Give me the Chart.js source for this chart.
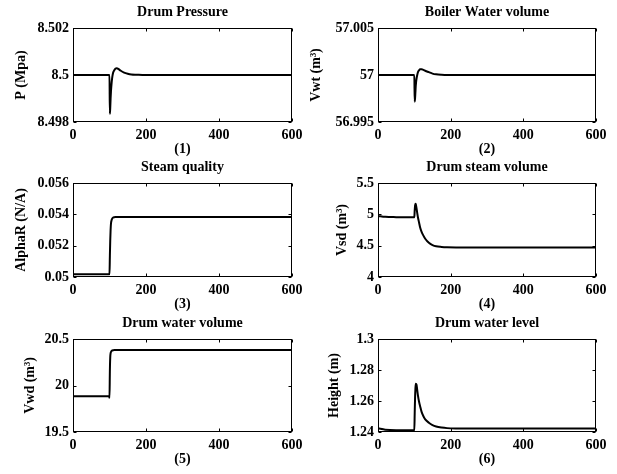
<!DOCTYPE html>
<html><head><meta charset="utf-8">
<script src="https://cdn.jsdelivr.net/npm/chart.js@4"></script>
<style>
html,body{margin:0;padding:0;background:#fff;width:617px;height:474px;overflow:hidden;position:relative}
canvas{position:absolute}
</style></head><body>
<canvas id="c1"></canvas><canvas id="c2"></canvas><canvas id="c3"></canvas>
<canvas id="c4"></canvas><canvas id="c5"></canvas><canvas id="c6"></canvas>
<script>
// ---- data ----
const time = [0, 20, 50, 99, 100, 101, 102, 103, 104, 106, 108, 110, 113, 116, 120, 125, 130, 140, 150, 160, 175, 190, 220, 300, 400, 500, 600];
const drumPressure = [8.5, 8.5, 8.5, 8.5, 8.5, 8.49835, 8.4986, 8.4990, 8.4993, 8.4997, 8.49995, 8.5001, 8.5002, 8.50027, 8.50029, 8.50025, 8.50019, 8.5001, 8.50005, 8.50002, 8.50001, 8.5, 8.5, 8.5, 8.5, 8.5, 8.5];
const boilerWaterVolume = [57, 57, 57, 57, 57, 56.99716, 56.9975, 56.9982, 56.9989, 56.9996, 57.0000, 57.0003, 57.0005, 57.0006, 57.0006, 57.00055, 57.00045, 57.0003, 57.00015, 57.00007, 57.00002, 57, 57, 57, 57, 57, 57];
const steamQuality = [0.05017, 0.05017, 0.05017, 0.05017, 0.05017, 0.0513, 0.0523, 0.0530, 0.0534, 0.05365, 0.05375, 0.0538, 0.05382, 0.05383, 0.05383, 0.05383, 0.05383, 0.05383, 0.05383, 0.05383, 0.05383, 0.05383, 0.05383, 0.05383, 0.05383, 0.05383, 0.05383];
const drumSteamVolume = [4.975, 4.96, 4.955, 4.953, 4.953, 5.06, 5.14, 5.17, 5.16, 5.10, 5.02, 4.95, 4.87, 4.79, 4.72, 4.66, 4.61, 4.545, 4.51, 4.49, 4.48, 4.475, 4.472, 4.47, 4.47, 4.47, 4.47];
const drumWaterVolume = [19.885, 19.885, 19.885, 19.885, 19.867, 20.15, 20.3, 20.345, 20.36, 20.372, 20.377, 20.379, 20.381, 20.381, 20.381, 20.381, 20.381, 20.381, 20.381, 20.381, 20.381, 20.381, 20.381, 20.381, 20.381, 20.381, 20.381];
const drumWaterLevel = [1.2424, 1.2415, 1.2412, 1.2412, 1.2412, 1.252, 1.262, 1.268, 1.2712, 1.2705, 1.267, 1.2635, 1.2595, 1.2565, 1.253, 1.2502, 1.2482, 1.246, 1.2445, 1.2436, 1.2429, 1.2425, 1.2423, 1.2422, 1.2422, 1.2422, 1.2422];

const xTicks = [0, 200, 400, 600];
const yTicks1 = [8.498, 8.5, 8.502];       const yLabels1 = ['8.498', '8.5', '8.502'];
const yTicks2 = [56.995, 57, 57.005];      const yLabels2 = ['56.995', '57', '57.005'];
const yTicks3 = [0.05, 0.052, 0.054, 0.056]; const yLabels3 = ['0.05', '0.052', '0.054', '0.056'];
const yTicks4 = [4, 4.5, 5, 5.5];          const yLabels4 = ['4', '4.5', '5', '5.5'];
const yTicks5 = [19.5, 20, 20.5];          const yLabels5 = ['19.5', '20', '20.5'];
const yTicks6 = [1.24, 1.26, 1.28, 1.3];   const yLabels6 = ['1.24', '1.26', '1.28', '1.3'];

const titles = ['Drum Pressure', 'Boiler Water volume', 'Steam quality', 'Drum steam volume', 'Drum water volume', 'Drum water level'];
const yTitles = ['P (Mpa)', 'Vwt (m³)', 'AlphaR (N/A)', 'Vsd (m³)', 'Vwd (m³)', 'Height (m)'];
const xTitles = ['(1)', '(2)', '(3)', '(4)', '(5)', '(6)'];

// ---- layout (canvas placement & axis sizes) ----
const panels = [
  {id:'c1', left:0,   top:0,   w:308, plotH:94, yW:73, padR:16, yTitlePad:13.3, series:drumPressure,      yt:yTicks1, yl:yLabels1},
  {id:'c2', left:306, top:0,   w:311, plotH:94, yW:72, padR:21, yTitlePad:1.6,  series:boilerWaterVolume, yt:yTicks2, yl:yLabels2},
  {id:'c3', left:0,   top:155, w:308, plotH:94, yW:73, padR:16, yTitlePad:13,   series:steamQuality,      yt:yTicks3, yl:yLabels3},
  {id:'c4', left:306, top:155, w:311, plotH:94, yW:72, padR:21, yTitlePad:27.6, series:drumSteamVolume,   yt:yTicks4, yl:yLabels4},
  {id:'c5', left:0,   top:311, w:308, plotH:93, yW:73, padR:16, yTitlePad:21.6, series:drumWaterVolume,   yt:yTicks5, yl:yLabels5},
  {id:'c6', left:306, top:311, w:311, plotH:93, yW:72, padR:21, yTitlePad:20,   series:drumWaterLevel,    yt:yTicks6, yl:yLabels6}
];

const FONT = {family:'"Liberation Serif", "Times New Roman", serif', size:14, weight:'bold', lineHeight:1.2};
const TOPH = 28, XAXH = 36;

const boxPlugin = {
  id: 'matlabBox',
  afterDatasetsDraw(chart) {
    const {ctx, chartArea: a, scales: {x, y}} = chart;
    ctx.save();
    ctx.strokeStyle = '#000';
    ctx.lineWidth = 1;
    const L = Math.round(a.left) + 0.5, R = Math.round(a.right) - 0.5;
    const T = Math.round(a.top) + 0.5, B = Math.round(a.bottom) - 0.5;
    ctx.strokeRect(L, T, R - L, B - T);
    const tl = 3;
    ctx.beginPath();
    x.ticks.forEach(t => {
      const px = Math.round(x.getPixelForValue(t.value)) + 0.5;
      ctx.moveTo(px, B); ctx.lineTo(px, B - tl);
      ctx.moveTo(px, T); ctx.lineTo(px, T + tl);
    });
    y.ticks.forEach(t => {
      const py = Math.round(y.getPixelForValue(t.value)) + 0.5;
      ctx.moveTo(L, py); ctx.lineTo(L + tl, py);
      ctx.moveTo(R, py); ctx.lineTo(R - tl, py);
    });
    ctx.stroke();
    ctx.restore();
  }
};

panels.forEach((p, i) => {
  const cv = document.getElementById(p.id);
  const H = TOPH + p.plotH + XAXH;
  cv.width = p.w; cv.height = H;
  cv.style.left = p.left + 'px'; cv.style.top = p.top + 'px';
  cv.style.width = p.w + 'px'; cv.style.height = H + 'px';
  const yt = p.yt, yl = p.yl;
  new Chart(cv, {
    type: 'line',
    data: {
      labels: time,
      datasets: [{
        data: time.map((t, k) => ({x: t, y: p.series[k]})),
        borderColor: '#000',
        borderWidth: 2,
        pointRadius: 0,
        fill: false,
        cubicInterpolationMode: 'monotone'
      }]
    },
    options: {
      responsive: false,
      animation: false,
      devicePixelRatio: 1,
      layout: {padding: {left: 0, right: p.padR, top: 0, bottom: 0}},
      plugins: {
        legend: {display: false},
        tooltip: {enabled: false},
        title: {
          display: true, text: titles[i], color: '#000', fullSize: false,
          font: FONT, padding: {top: 3.6, bottom: 7.6}
        }
      },
      scales: {
        x: {
          type: 'linear', min: 0, max: 600,
          afterBuildTicks: s => { s.ticks = xTicks.map(v => ({value: v})); },
          afterFit: s => { s.height = XAXH; },
          grid: {display: false, drawTicks: false},
          border: {display: false},
          ticks: {color: '#000', font: FONT, padding: 5, maxRotation: 0, autoSkip: false,
                  callback: v => String(v)},
          title: {display: true, text: xTitles[i], color: '#000', font: FONT, padding: {top: 0, bottom: 0}}
        },
        y: {
          type: 'linear', min: yt[0], max: yt[yt.length - 1],
          afterBuildTicks: s => { s.ticks = yt.map(v => ({value: v})); },
          afterFit: s => { s.width = p.yW; },
          grid: {display: false, drawTicks: false},
          border: {display: false},
          ticks: {color: '#000', font: FONT, padding: 4, autoSkip: false,
                  callback: (v, k) => yl[k]},
          title: {display: true, text: yTitles[i], color: '#000', font: FONT, padding: {top: p.yTitlePad, bottom: 0}}
        }
      }
    },
    plugins: [boxPlugin]
  });
});
</script>
</body></html>
